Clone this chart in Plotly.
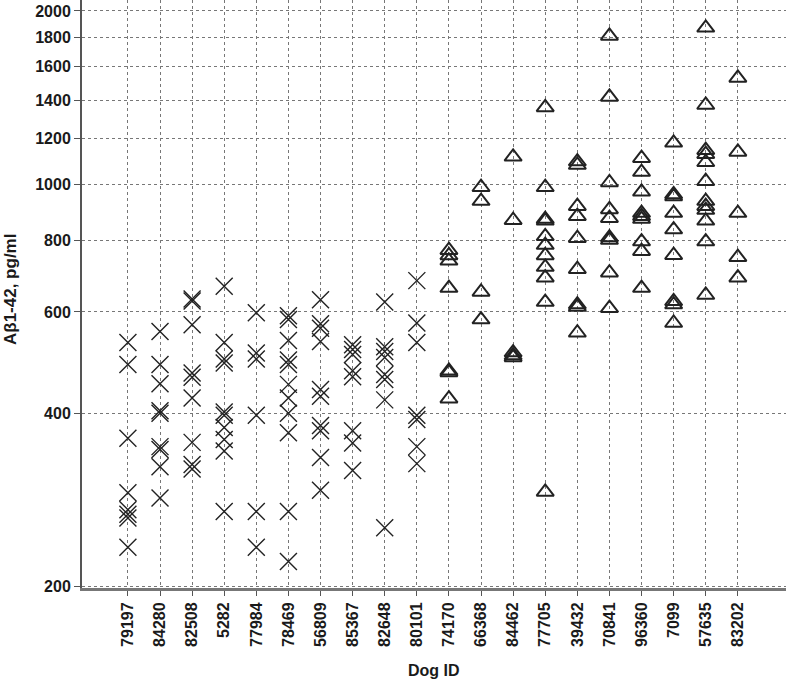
import plotly.graph_objects as go
import math

# dogs drawn with X markers
ids_x = ["79197", "84280", "82508", "5282", "77984",
         "78469", "56809", "85367", "82648", "80101"]
vals_x = [
    [531, 486, 362, 291, 272, 267, 263, 234],
    [555, 486, 450, 404, 400, 350, 346, 323, 285],
    [632, 627, 570, 470, 462, 425, 356, 326, 320],
    [665, 531, 497, 489, 402, 397, 378, 360, 344, 270],
    [598, 509, 497, 397, 270, 234],
    [591, 582, 535, 495, 486, 449, 425, 400, 370, 270, 221],
    [630, 572, 562, 533, 440, 428, 381, 373, 335, 294],
    [526, 516, 506, 474, 463, 373, 355, 318],
    [624, 522, 512, 500, 467, 458, 422, 253],
    [680, 574, 531, 397, 390, 350, 327],
]

# dogs drawn with triangle markers
ids_t = ["74170", "66368", "84462", "77705", "39432",
         "70841", "96360", "7099", "57635", "83202"]
vals_t = [
    [768, 752, 736, 660, 474, 471, 424],
    [988, 935, 650, 582],
    [1116, 866, 510, 504, 500],
    [1360, 988, 870, 864, 812, 784, 752, 718, 688, 624, 292],
    [1095, 1080, 916, 880, 806, 712, 618, 612, 552],
    [1810, 1418, 1007, 904, 873, 808, 800, 702, 609],
    [1110, 1050, 970, 891, 880, 870, 795, 765, 660],
    [1180, 960, 952, 891, 834, 753, 626, 618, 574],
    [1870, 1373, 1146, 1128, 1092, 1012, 935, 916, 902, 864, 795, 642],
    [1530, 1138, 891, 747, 688],
]

y_ticks = [200, 400, 600, 800, 1000, 1200, 1400, 1600, 1800, 2000]

def flatten(ids, vals):
    xs, ys = [], []
    for d, v in zip(ids, vals):
        xs += [d] * len(v)
        ys += v
    return xs, ys

x1, y1 = flatten(ids_x, vals_x)
x2, y2 = flatten(ids_t, vals_t)

ink = "#222222"
fig = go.Figure()
fig.add_trace(go.Scatter(x=x1, y=y1, mode="markers",
                         marker=dict(symbol="x-thin-open", size=17, color=ink,
                                     line=dict(color=ink, width=1.4))))
fig.add_trace(go.Scatter(x=x2, y=y2, mode="markers",
                         marker=dict(symbol="triangle-up-open", size=15, color=ink,
                                     line=dict(color=ink, width=2))))

font = "Liberation Sans, Arial, sans-serif"
fig.update_layout(
    width=786, height=681,
    margin=dict(l=82, r=0, t=0, b=93),
    plot_bgcolor="white", paper_bgcolor="white",
    showlegend=False,
    font=dict(family=font, color="#1a1a1a"),
)
fig.update_xaxes(
    type="category", categoryorder="array", categoryarray=ids_x + ids_t,
    range=[-1.43, 20.5], automargin=False,
    tickangle=-90, tickfont=dict(size=16, family=font, weight="bold"),
    ticks="outside", ticklen=5, tickcolor="#555",
    showgrid=True, gridcolor="#777", griddash="dot", gridwidth=1,
    showline=True, linecolor="#777", linewidth=3,
)
fig.update_yaxes(
    type="log", automargin=False,
    range=[math.log10(200) - 0.0026, math.log10(2000) + 0.0191],
    tickvals=y_ticks, ticktext=[str(t) for t in y_ticks],
    tickfont=dict(size=16, family=font, weight="bold"),
    ticks="outside", ticklen=6, tickcolor="#555",
    showgrid=True, gridcolor="#777", griddash="dot", gridwidth=1,
    showline=True, linecolor="#555", linewidth=2,
)
fig.add_annotation(text="<b>Dog ID</b>", xref="paper", yref="paper",
                   x=0.5, y=-(670 - 588) / 588, xanchor="center", yanchor="middle",
                   showarrow=False, font=dict(size=16, family=font))
fig.add_annotation(text="<b>Aβ1-42, pg/ml</b>", xref="paper", yref="paper",
                   x=-(82 - 10) / 704, y=(588 - 290) / 588, xanchor="center", yanchor="middle",
                   textangle=-90, showarrow=False, font=dict(size=17, family=font))

fig.write_html("out.html", config={"displayModeBar": False},
               post_script="document.body.style.margin='0';")
